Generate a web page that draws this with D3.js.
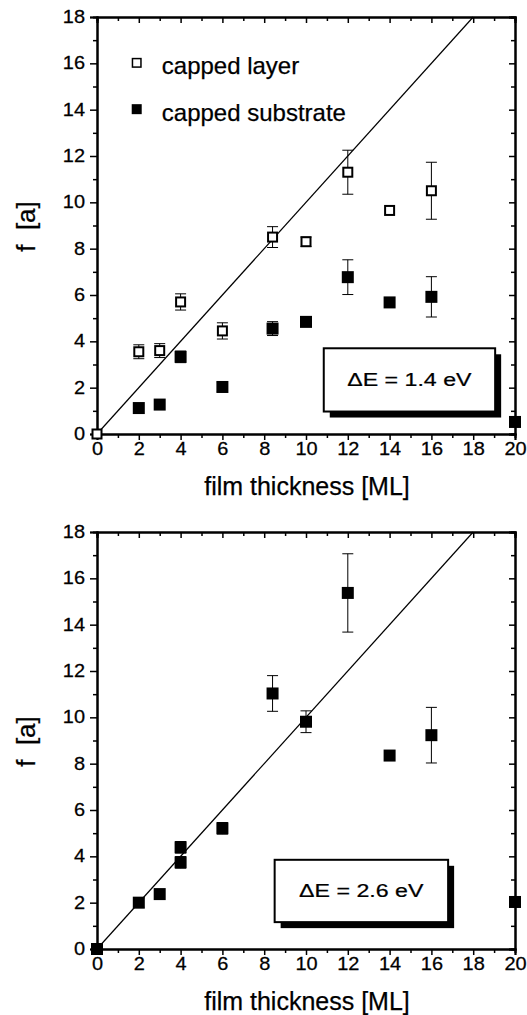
<!DOCTYPE html>
<html>
<head>
<meta charset="utf-8">
<script src="https://cdnjs.cloudflare.com/ajax/libs/d3/7.8.5/d3.min.js"></script>
<style>
  body { margin: 0; background: #fff; }
  svg { display: block; font-family: "Liberation Sans", Arial, sans-serif; }
  text { fill: #000; stroke: #000; stroke-width: 0.25px; }
  .tick text { font-size: 17.5px; transform-box: fill-box; }
  .yax .tick text { transform-origin: 100% 50%; transform: scaleX(1.14); }
  .xax .tick text { transform-origin: 50% 50%; transform: scaleX(1.14); }
  .boxtxt { transform-box: fill-box; transform-origin: 50% 50%; transform: scaleX(1.22); }
</style>
</head>
<body>
<svg width="527" height="1015"></svg>
<script>
// ---- data ----
// top panel, dE = 1.4 eV
const layerX    = [0, 2, 3, 4, 6, 8.4, 10, 12, 14, 16];
const layerY    = [0, 3.55, 3.6, 5.7, 4.45, 8.5, 8.3, 11.3, 9.65, 10.5];
const layerErr  = [0, 0.3, 0.3, 0.35, 0.35, 0.45, 0.2, 0.95, 0.1, 1.23];
const subX      = [2, 3, 4, 6, 8.4, 10, 12, 14, 16, 20];
const subY      = [1.12, 1.27, 3.33, 2.03, 4.55, 4.84, 6.77, 5.68, 5.92, 0.52];
const subErr    = [0.15, 0.1, 0.25, 0.2, 0.3, 0.15, 0.75, 0.1, 0.87, 0.1];
// bottom panel, dE = 2.6 eV
const botX      = [0, 2, 3, 4, 4, 6, 8.4, 10, 12, 14, 16, 20];
const botY      = [0, 2.0, 2.37, 4.39, 3.74, 5.21, 11.03, 9.81, 15.37, 8.35, 9.23, 2.03];
const botErr    = [0, 0.2, 0.1, 0.25, 0.25, 0.25, 0.77, 0.47, 1.69, 0.1, 1.2, 0.1];
const refLine   = [[0, 0], [18, 18]];

const xTicks = d3.range(0, 21, 2), xMinor = d3.range(1, 20, 2);
const yTicks = d3.range(0, 19, 2), yMinor = d3.range(1, 18, 2);

const svg = d3.select('svg');
const left = 97, width = 418, height = 417;

function panel(top, series, label) {
  const g = svg.append('g').attr('transform', `translate(${left},${top})`);
  const xScale = d3.scaleLinear().domain([0, 20]).range([0, width]);
  const yScale = d3.scaleLinear().domain([0, 18]).range([height, 0]);

  // minor ticks first
  g.append('g').attr('transform', `translate(0,${height})`)
    .call(d3.axisBottom(xScale).tickValues(xMinor).tickSize(4).tickFormat(''));
  g.append('g').call(d3.axisTop(xScale).tickValues(xMinor).tickSize(-4).tickFormat(''));
  g.append('g').call(d3.axisLeft(yScale).tickValues(yMinor).tickSize(4).tickFormat(''));
  g.append('g').attr('transform', `translate(${width},0)`)
    .call(d3.axisRight(yScale).tickValues(yMinor).tickSize(-4).tickFormat(''));

  // major
  g.append('g').attr('class', 'xax').attr('transform', `translate(0,${height})`)
    .call(d3.axisBottom(xScale).tickValues(xTicks).tickSize(6).tickPadding(3).tickFormat(d3.format('d')));
  g.append('g').call(d3.axisTop(xScale).tickValues(xTicks).tickSize(-6).tickFormat(''));
  g.append('g').attr('class', 'yax')
    .call(d3.axisLeft(yScale).tickValues(yTicks).tickSize(7).tickPadding(5).tickFormat(d3.format('d')));
  g.append('g').attr('transform', `translate(${width},0)`)
    .call(d3.axisRight(yScale).tickValues(yTicks).tickSize(-6).tickFormat(''));

  g.selectAll('.domain').attr('stroke', '#000').attr('stroke-width', 2);
  g.selectAll('.tick line').attr('stroke', '#000').attr('stroke-width', 1.5);

  // y = x reference line
  g.append('path')
    .attr('d', d3.line().x(d => xScale(d[0])).y(d => yScale(d[1]))(refLine))
    .attr('fill', 'none').attr('stroke', '#000').attr('stroke-width', 1.2);

  series.forEach(s => {
    const pts = s.x.map((x, i) => ({x: x, y: s.y[i], e: s.err[i]}));
    const eb = g.append('g').selectAll('g').data(pts.filter(p => p.e > 0.15)).enter().append('g')
      .attr('stroke', '#000').attr('stroke-width', 1);
    eb.append('line')
      .attr('x1', d => xScale(d.x)).attr('x2', d => xScale(d.x))
      .attr('y1', d => yScale(d.y + d.e)).attr('y2', d => yScale(d.y - d.e));
    [1, -1].forEach(sg => {
      eb.append('line')
        .attr('x1', d => xScale(d.x) - 5.5).attr('x2', d => xScale(d.x) + 5.5)
        .attr('y1', d => yScale(d.y + sg * d.e)).attr('y2', d => yScale(d.y + sg * d.e));
    });
    const sz = s.open ? 9 : 12;
    g.append('g').selectAll('rect').data(pts).enter().append('rect')
      .attr('x', d => xScale(d.x) - sz / 2)
      .attr('y', d => yScale(d.y) - sz / 2)
      .attr('width', sz).attr('height', sz)
      .attr('fill', s.open ? '#fff' : '#000')
      .attr('stroke', '#000').attr('stroke-width', s.open ? 2 : 0);
  });

  // label box with shadow
  const bx = xScale(label.x0), by = yScale(label.y1);
  const bw = xScale(label.x1) - bx, bh = yScale(label.y0) - by;
  g.append('rect').attr('x', bx + 6).attr('y', by + 6).attr('width', bw).attr('height', bh).attr('fill', '#000');
  g.append('rect').attr('x', bx).attr('y', by).attr('width', bw).attr('height', bh)
    .attr('fill', '#fff').attr('stroke', '#000').attr('stroke-width', 2);
  g.append('text').attr('class', 'boxtxt').attr('x', bx + bw / 2).attr('y', by + bh / 2 + 6.5)
    .attr('text-anchor', 'middle').style('font-size', '19px').text(label.text);

  // axis titles
  svg.append('text')
    .attr('x', left + width / 2 + 1).attr('y', top + height + 61)
    .attr('text-anchor', 'middle').style('font-size', '25px').text('film thickness [ML]');
  svg.append('text')
    .attr('transform', `translate(35,${top + height / 2 + 1}) rotate(-90)`)
    .attr('text-anchor', 'middle').style('font-size', '26px').style('white-space', 'pre')
    .text('f  [a]');

  return {g, xScale, yScale};
}

const p1 = panel(17, [
  {x: subX, y: subY, err: subErr, open: false},
  {x: layerX, y: layerY, err: layerErr, open: true}
], {x0: 10.85, x1: 19.05, y0: 0.97, y1: 3.7, text: 'ΔE = 1.4 eV'});

// legend (top panel)
const legend = [{name: 'capped layer', open: true, v: 16}, {name: 'capped substrate', open: false, v: 14}];
legend.forEach(l => {
  const cy = p1.yScale(l.v) - 0.5;
  const sz = l.open ? 8.5 : 10;
  p1.g.append('rect')
    .attr('x', p1.xScale(1.9) - sz / 2).attr('y', cy - sz / 2)
    .attr('width', sz).attr('height', sz)
    .attr('fill', l.open ? '#fff' : '#000').attr('stroke', '#000').attr('stroke-width', l.open ? 1.5 : 0);
  p1.g.append('text')
    .attr('x', p1.xScale(3.1)).attr('y', cy + 11.5)
    .style('font-size', '24px').text(l.name);
});

panel(532, [
  {x: botX, y: botY, err: botErr, open: false}
], {x0: 8.5, x1: 16.8, y0: 1.16, y1: 3.85, text: 'ΔE = 2.6 eV'});
</script>
</body>
</html>
